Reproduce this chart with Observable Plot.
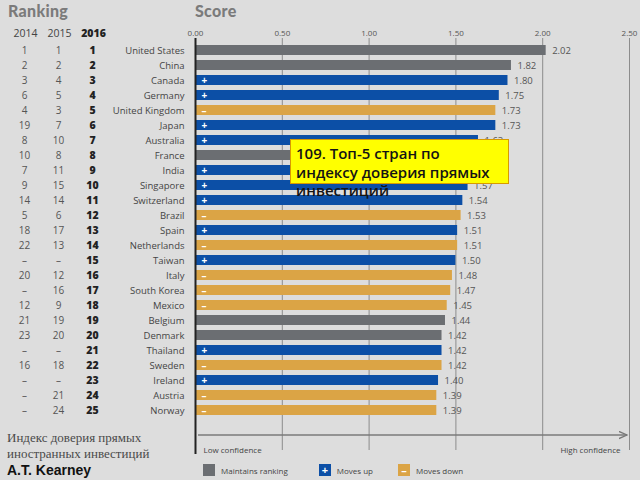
<!DOCTYPE html>
<html>
<head>
<meta charset="utf-8">
<script src="https://cdn.jsdelivr.net/npm/d3@7"></script>
<script src="https://cdn.jsdelivr.net/npm/@observablehq/plot@0.6"></script>
<style>
  html, body { margin: 0; padding: 0; background: #dddddd; }
  #wrap { position: relative; width: 640px; height: 480px; overflow: hidden; background: #dddddd; font-family: "Open Sans", sans-serif; }
  #chart { position: absolute; left: 0; top: 0; }
  .hdr { position: absolute; top: 1px; font-family: "Lato", sans-serif; font-weight: 900; font-size: 16px; color: #7b7b7b; letter-spacing: 0.3px; }
  #caption { position: absolute; left: 7px; top: 430px; font-family: "Liberation Serif", serif; font-size: 13px; line-height: 16px; color: #4a4a4a; }
  #caption b { font-family: "Liberation Sans", Arial, sans-serif; font-size: 14px; color: #111; display: block; }
  #legend { position: absolute; left: 203px; top: 464px; font-size: 8px; color: #444; display: flex; align-items: center; }
  #legend .sw { width: 12px; height: 12px; display: inline-block; margin-right: 6px; color: #fff; font-size: 11px; line-height: 12px; text-align: center; font-weight: 700; }
  #legend .it { display: flex; align-items: center; }
  #note { position: absolute; left: 290px; top: 139px; width: 219px; height: 45px; background: #ffff00; border: 1px solid #d89a00; box-sizing: border-box; }
  #notetext { position: absolute; left: 296px; top: 144px; font-family: "Open Sans", sans-serif; font-weight: 600; font-size: 15px; line-height: 18.5px; color: #141414; white-space: nowrap; }
</style>
</head>
<body>
<div id="wrap">
  <div id="chart"></div>
  <div class="hdr" style="left:8px">Ranking</div>
  <div class="hdr" style="left:195px">Score</div>
  <div id="note"></div>
  <div id="notetext">109. Топ-5 стран по<br>индексу доверия прямых<br>инвестиций</div>
  <div id="caption">Индекс доверия прямых<br>иностранных инвестиций<b>A.T. Kearney</b></div>
  <div id="legend"></div>
</div>
<script>
const countries = ["United States","China","Canada","Germany","United Kingdom","Japan","Australia","France","India","Singapore","Switzerland","Brazil","Spain","Netherlands","Taiwan","Italy","South Korea","Mexico","Belgium","Denmark","Thailand","Sweden","Ireland","Austria","Norway"];
const scores = [2.02,1.82,1.80,1.75,1.73,1.73,1.63,1.62,1.58,1.57,1.54,1.53,1.51,1.51,1.50,1.48,1.47,1.45,1.44,1.42,1.42,1.42,1.40,1.39,1.39];
const rank2014 = ["1","2","3","6","4","19","8","10","7","9","14","5","18","22","–","20","–","12","21","23","–","16","–","–","–"];
const rank2015 = ["1","2","4","5","3","7","10","8","11","15","14","6","17","13","–","12","16","9","19","20","–","18","–","21","24"];
const rank2016 = ["1","2","3","4","5","6","7","8","9","10","11","12","13","14","15","16","17","18","19","20","21","22","23","24","25"];
const status = ["same","same","up","up","down","up","up","same","up","up","up","down","up","down","up","down","down","down","same","same","up","down","up","down","down"];
const years = ["2014","2015","2016"];
const xTicks = [0, 0.5, 1, 1.5, 2, 2.5];
const statusNames = {same: "Maintains ranking", up: "Moves up", down: "Moves down"};
const statusColors = {same: "#6b6e72", up: "#0c4fa6", down: "#dba445"};
const statusSigns = {same: "", up: "+", down: "–"};

const data = countries.map((c, i) => ({
  country: c, score: scores[i], r2014: rank2014[i], r2015: rank2015[i], r2016: rank2016[i],
  status: status[i], sign: statusSigns[status[i]]
}));

const colOffsets = [-171, -137, -103];

const chart = Plot.plot({
  width: 640,
  height: 480,
  marginLeft: 195,
  marginRight: 11,
  marginTop: 41,
  marginBottom: 62,
  style: {background: "transparent", fontFamily: "Open Sans, sans-serif", color: "#444"},
  x: {domain: [0, 2.5], ticks: xTicks, axis: null, label: null},
  y: {domain: countries, paddingInner: 0.35, paddingOuter: 0.21, axis: null},
  marks: [
    Plot.ruleX(xTicks.slice(1), {stroke: "#8c8c8c", strokeWidth: 1, insetTop: -3, insetBottom: -32}),
    Plot.axisX(xTicks, {anchor: "top", label: null, tickSize: 0, tickPadding: 6, tickFormat: d3.format(".2f"), fontSize: 8, fill: "#555"}),
    Plot.barX(data, {x: "score", y: "country", fill: d => statusColors[d.status]}),
    Plot.ruleX([0], {stroke: "#222", strokeWidth: 2, insetTop: -3, insetBottom: -36}),
    Plot.text(data.filter(d => d.sign), {y: "country", text: "sign", frameAnchor: "left", dx: 6, fill: "white", fontSize: 10, fontWeight: 700}),
    Plot.text(data, {x: "score", y: "country", text: d => d3.format(".2f")(d.score), dx: 6, textAnchor: "start", fontSize: 9.5, fill: "#555"}),
    Plot.text(data, {y: "country", text: "country", frameAnchor: "left", dx: -11, textAnchor: "end", fontSize: 9.5, fill: "#444"}),
    Plot.text(data, {y: "country", text: "r2014", frameAnchor: "left", dx: colOffsets[0], textAnchor: "middle", fontSize: 10, fill: "#555"}),
    Plot.text(data, {y: "country", text: "r2015", frameAnchor: "left", dx: colOffsets[1], textAnchor: "middle", fontSize: 10, fill: "#555"}),
    Plot.text(data, {y: "country", text: "r2016", frameAnchor: "left", dx: colOffsets[2], textAnchor: "middle", fontSize: 10.5, fontWeight: 800, fill: "#222"}),
    Plot.text([years[0]], {text: d => d, frameAnchor: "top-left", dx: colOffsets[0] + 1, dy: -12, textAnchor: "middle", fontSize: 10.5, fill: "#444"}),
    Plot.text([years[1]], {text: d => d, frameAnchor: "top-left", dx: colOffsets[1] + 1, dy: -12, textAnchor: "middle", fontSize: 10.5, fill: "#444"}),
    Plot.text([years[2]], {text: d => d, frameAnchor: "top-left", dx: colOffsets[2] + 1, dy: -12, textAnchor: "middle", fontSize: 10.5, fontWeight: 800, fill: "#222"}),
    Plot.text(["Low confidence"], {frameAnchor: "bottom-left", dx: 8, dy: 34, textAnchor: "start", fontSize: 8, fill: "#444"}),
    Plot.text(["High confidence"], {frameAnchor: "bottom-right", dx: -9, dy: 34, textAnchor: "end", fontSize: 8, fill: "#444"})
  ]
});
document.getElementById("chart").appendChild(chart);

// confidence arrow along the score scale
const xs = chart.scale("x");
const svg = d3.select(chart);
svg.append("defs").append("marker").attr("id", "ah").attr("viewBox", "0 0 10 10").attr("refX", 9).attr("refY", 5)
  .attr("markerWidth", 6).attr("markerHeight", 6).attr("orient", "auto")
  .append("path").attr("d", "M0,1L9,5L0,9").attr("fill", "none").attr("stroke", "#777").attr("stroke-width", 1.5);
svg.append("line").attr("x1", xs.apply(0) + 3).attr("x2", xs.apply(2.5) - 2)
  .attr("y1", 480 - 62 + 17).attr("y2", 480 - 62 + 17)
  .attr("stroke", "#7a7a7a").attr("stroke-width", 1.5).attr("marker-end", "url(#ah)");

// legend
const legend = d3.select("#legend");
const gaps = ["31px", "25px", "0"];
Object.keys(statusNames).forEach((k, i) => {
  const it = legend.append("div").attr("class", "it").style("margin-right", gaps[i]);
  it.append("span").attr("class", "sw").style("background", statusColors[k]).text(statusSigns[k]);
  it.append("span").text(statusNames[k]);
});
</script>
</body>
</html>
